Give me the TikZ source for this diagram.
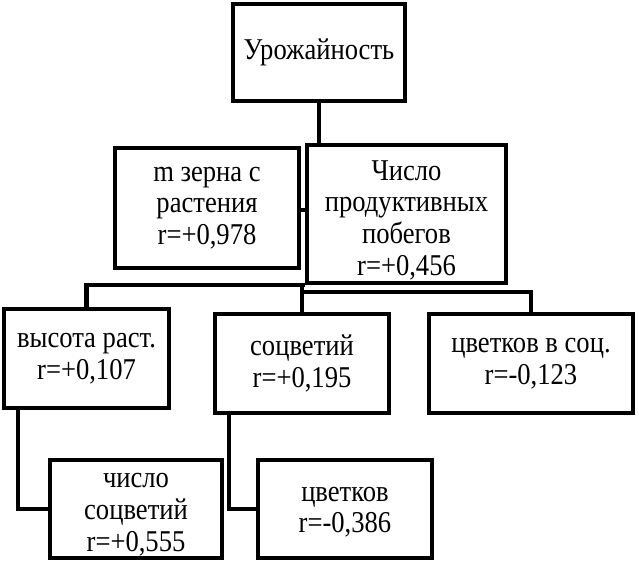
\documentclass[tikz,border=0pt]{standalone}
\usepackage{fontspec}
\setmainfont{Liberation Serif}[FakeStretch=0.88]
\usetikzlibrary{calc}

\begin{document}
\begin{tikzpicture}[
    box/.style={draw, rectangle, line width=3pt, align=center, inner sep=0pt,
                font=\fontsize{21.5pt}{22.6pt}\selectfont},
    link/.style={line width=3pt},
]
\useasboundingbox (0,0) rectangle (15.975,-14.05);

% Top level
\node[box, minimum width=4.3cm, minimum height=2.425cm] (yield) at (7.975,-1.3125) {Урожайность};

% Second level
\node[box, minimum width=4.6cm, minimum height=3cm] (grain) at (5.175,-5.2) {m зерна с\\растения\\r=+0,978};
\node[box, minimum width=4.975cm, minimum height=3.45cm] (shoots) at (10.1625,-5.35) {\rule{0pt}{0.8cm}Число\\продуктивных\\побегов\\r=+0,456};

% Third level
\node[box, minimum width=4.125cm, minimum height=2.475cm] (height) at (2.1625,-8.9625) {высота раст.\\r=+0,107};
\node[box, minimum width=4.35cm, minimum height=2.475cm] (infl) at (7.55,-9.0875) {соцветий\\r=+0,195};
\node[box, minimum width=5.1cm, minimum height=2.475cm] (flinfl) at (13.275,-9.0875) {цветков в соц.\\r=-0,123};

% Fourth level
\node[box, minimum width=4.3cm, minimum height=2.45cm] (ninfl) at (3.4,-12.725) {\rule{0pt}{0.65cm}число\\соцветий\\r=+0,555};
\node[box, minimum width=4.35cm, minimum height=2.45cm] (flowers) at (8.625,-12.725) {\rule{0pt}{0.52cm}цветков\\r=-0,386};

% Links
\draw[link] (yield.south) -- (yield.south |- shoots.north);
\draw[link] (grain.east |- 0,-5.25) -- (shoots.west |- 0,-5.25);
\draw[link] (shoots.south west) -| (height.north);
\draw[link] (infl.north) -- (infl.north |- shoots.south);
\draw[link] ($(infl.north)+(0,0.5)$) -| (flinfl.north);
\draw[link] ($(height.south west)+(0.4,0)$) |- (ninfl.west);
\draw[link] ($(infl.south west)+(0.4,0)$) |- (flowers.west);

\end{tikzpicture}
\end{document}
